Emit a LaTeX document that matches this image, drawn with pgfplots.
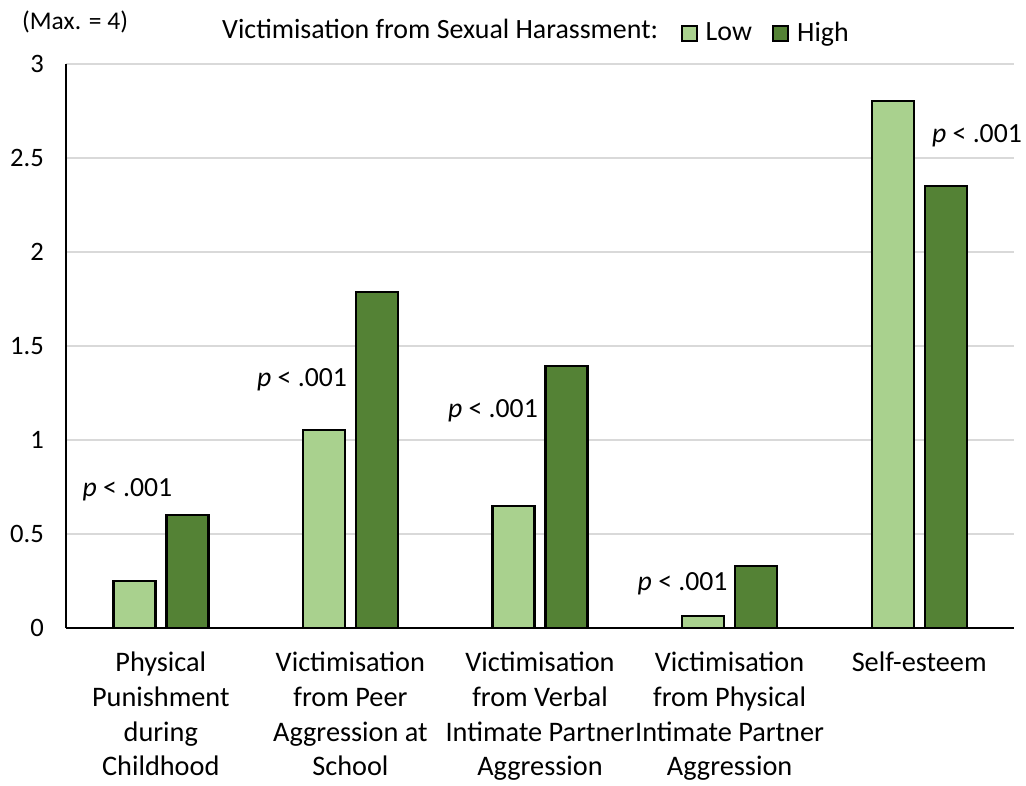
\documentclass[border=0pt]{standalone}
\usepackage{pgfplots}
\pgfplotsset{compat=1.18}
\usepackage{fontspec}
\setmainfont{Carlito}
\definecolor{lowg}{HTML}{A9D18E}
\definecolor{highg}{HTML}{548235}
\definecolor{gridg}{HTML}{D9D9D9}
\pgfplotsset{sqlegend/.style={/pgfplots/legend image code/.code={\draw[##1, line width=2.2pt] (0pt,-8.5pt) rectangle (15pt,6pt);}}}
\begin{document}
\begin{tikzpicture}
\useasboundingbox (0,0) rectangle (1026pt,785pt);
\begin{axis}[
  at={(66pt,157pt)}, anchor=south west,
  scale only axis, width=948pt, height=564pt,
  xmin=-0.5, xmax=4.5, ymin=0, ymax=3,
  ybar,
  axis x line*=bottom, axis y line*=left,
  axis line style={line width=2pt, -},
  ytick={0,0.5,1,1.5,2,2.5,3},
  ymajorgrids, grid style={gridg, line width=1.2pt},
  xtick={0,1,2,3,4},
  xticklabels={{Physical\\Punishment\\during\\Childhood},{Victimisation\\from Peer\\Aggression at\\School},{Victimisation\\from Verbal\\Intimate Partner\\Aggression},{Victimisation\\from Physical\\Intimate Partner\\Aggression},{Self-esteem}},
  major tick length=0pt,
  yticklabel style={font=\fontsize{26.6}{30}\selectfont, /pgf/number format/assume math mode=true, inner sep=0pt, xshift=-22pt},
  xticklabel style={font=\fontsize{28.3}{34.7}\selectfont, align=center, anchor=north, inner sep=0pt, yshift=-24pt},
  clip=false,
  legend columns=2,
  legend style={draw=none, fill=none, at={(0.648,1.0565)}, anchor=west, inner sep=0pt, font=\fontsize{27.9}{32}\selectfont, /tikz/every even column/.append style={column sep=16pt}, /tikz/every odd column/.append style={column sep=4pt}, nodes={inner sep=4pt}},
]
\addplot[bar width=42pt, bar shift=-26.5pt, fill=lowg, draw=black, line width=2.4pt, sqlegend] coordinates {(0,0.25) (1,1.053) (2,0.649) (3,0.064) (4,2.803)};
\addlegendentry{Low}
\addplot[bar width=42pt, bar shift=26.5pt, fill=highg, draw=black, line width=2.4pt, sqlegend] coordinates {(0,0.60) (1,1.787) (2,1.394) (3,0.33) (4,2.351)};
\addlegendentry{High}
\begin{scope}[every node/.style={anchor=base, inner sep=0pt, font=\fontsize{27.7}{32}\selectfont}]
\node at (axis cs:-0.176,0.697) {\textit{p} < .001};
\node at (axis cs:0.745,1.282) {\textit{p} < .001};
\node at (axis cs:1.752,1.122) {\textit{p} < .001};
\node at (axis cs:2.752,0.197) {\textit{p} < .001};
\node at (axis cs:4.305,2.58) {\textit{p} < .001};
\end{scope}
\node[anchor=base west, inner sep=0pt, font=\fontsize{27.9}{32}\selectfont] at (axis cs:0.323,3.138) {Victimisation from Sexual Harassment:};
\node[anchor=base west, inner sep=0pt, font=\fontsize{25.5}{30}\selectfont] at (axis cs:-0.732,3.181) {(Max. = 4)};
\end{axis}
\end{tikzpicture}
\end{document}
